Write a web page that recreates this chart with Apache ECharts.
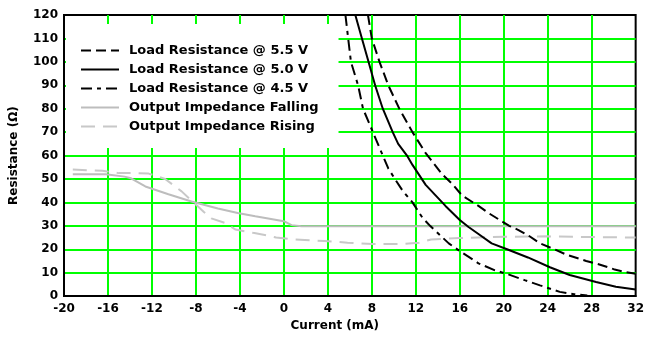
<!DOCTYPE html>
<html>
<head>
<meta charset="utf-8">
<script src="https://cdn.jsdelivr.net/npm/echarts@6/dist/echarts.min.js"></script>
<style>
  html, body { margin: 0; padding: 0; background: #fff; }
  #chart { width: 647px; height: 337px; }
</style>
</head>
<body>
<div id="chart"></div>
<script>
// Axis ranges (mA on x, ohms on y)
const xMin = -20, xMax = 32, xStep = 4;
const yMin = 0, yMax = 120, yStep = 10;

// Load resistance @ 5.5 V
const load55Current = [7.65, 8.0, 8.7, 9.5, 10.5, 11.7, 12.9, 13.4, 14.4, 15.3, 16.2, 17.7, 18.6, 19.8, 20.5, 21.3, 22.2, 23.3, 24.6, 25.7, 27.5, 28.7, 30.0, 31.1, 32.0];
const load55Ohms    = [120, 110, 100, 90, 80, 70, 61, 58, 52, 48, 43, 38.5, 35.5, 32, 30, 28.3, 26, 22.5, 20, 17.7, 15, 13.5, 11.5, 10.2, 9.5];

// Load resistance @ 5.0 V
const load50Current = [6.5, 7.1, 7.7, 8.3, 9.0, 9.9, 10.4, 11.2, 11.7, 12.9, 14.7, 16.0, 16.8, 17.7, 18.9, 20.3, 22.2, 24.2, 26.0, 28.4, 30.2, 32.0];
const load50Ohms    = [120, 110, 100, 90, 80, 70, 65, 60, 56, 47.5, 38.5, 32.5, 29.5, 26.5, 22.5, 20, 16.5, 12.3, 9, 6, 4, 2.8];

// Load resistance @ 4.5 V
const load45Current = [5.6, 5.85, 6.1, 6.75, 7.2, 8.1, 9.0, 9.5, 10.1, 10.8, 11.7, 12.6, 13.3, 15.0, 16.2, 17.7, 19.2, 20.4, 21.9, 23.3, 25.1, 26.4, 27.6];
const load45Ohms    = [120, 110, 100, 90, 80, 70, 60, 54.5, 50, 45, 40, 33.5, 30, 22.5, 18.6, 14, 11, 9.3, 6.8, 4.6, 1.8, 0.8, 0.3];

// Output impedance, falling edge
const fallCurrent = [-19.2, -16.2, -14.5, -13.9, -12.6, -10.5, -8.4, -6.0, -4.2, -2.6, 0.0, 0.7, 1.6, 32.0];
const fallOhms    = [52, 52, 51, 50.3, 46.8, 43.5, 40.4, 37.4, 35.5, 34.1, 32, 30.3, 29.8, 29.8];

// Output impedance, rising edge
const riseCurrent = [-19.2, -16.5, -15.0, -13.5, -12.3, -10.8, -9.3, -8.1, -7.3, -6.6, -5.4, -4.4, -2.8, -1.6, -0.7, 1.0, 3.7, 5.8, 8.1, 10.8, 12.3, 13.4, 16.0, 20.0, 24.0, 28.0, 32.0];
const riseOhms    = [54, 53.5, 52.5, 52.5, 52.3, 50, 44.7, 39.5, 36, 33.2, 31.3, 28.4, 27, 26, 25, 24.2, 23.5, 22.8, 22.2, 22.2, 22.8, 24.2, 24.8, 25.3, 25.5, 25.2, 25];

const seriesNames = [
  'Load Resistance @ 5.5 V',
  'Load Resistance @ 5.0 V',
  'Load Resistance @ 4.5 V',
  'Output Impedance Falling',
  'Output Impedance Rising'
];

const pairs = (xs, ys) => xs.map((x, i) => [x, ys[i]]);

const font = 'DejaVu Sans';

function lineSeries(name, data, color, type, width, z) {
  return {
    name: name,
    type: 'line',
    data: data,
    symbol: 'none',
    smooth: false,
    z: z,
    lineStyle: { color: color, width: width, type: type, cap: 'butt' },
    itemStyle: { color: color },
    emphasis: { disabled: true },
    animation: false
  };
}

const chart = echarts.init(document.getElementById('chart'), null, { renderer: 'canvas' });

chart.setOption({
  backgroundColor: '#ffffff',
  animation: false,
  grid: {
    left: 59, right: 7, top: 15, bottom: 38,
    show: true,
    borderColor: '#000000',
    borderWidth: 2,
    backgroundColor: '#ffffff'
  },
  legend: {
    orient: 'vertical',
    left: 66,
    top: 24,
    backgroundColor: '#ffffff',
    padding: [20, 20, 15, 14],
    itemWidth: 38,
    itemHeight: 14,
    itemGap: 6,
    selectedMode: false,
    data: seriesNames,
    itemStyle: { opacity: 0 },
    textStyle: { fontFamily: font, fontSize: 13, fontWeight: 'bold', color: '#000', padding: [0, 0, 0, 5] }
  },
  xAxis: {
    type: 'value',
    min: xMin, max: xMax, interval: xStep,
    name: 'Current (mA)',
    nameLocation: 'middle',
    nameGap: 17,
    nameTextStyle: { fontFamily: font, fontSize: 12, fontWeight: 'bold', color: '#000', padding: [0, 30, 0, 0] },
    axisLine: { show: true, onZero: false, lineStyle: { color: '#000', width: 2 } },
    axisTick: { show: false },
    axisLabel: { margin: 7, fontFamily: font, fontSize: 12, fontWeight: 'bold', color: '#000' },
    splitLine: { show: true, showMinLine: false, showMaxLine: false, lineStyle: { color: '#00ff00', width: 2 } }
  },
  yAxis: {
    type: 'value',
    min: yMin, max: yMax, interval: yStep,
    name: 'Resistance (Ω)',
    nameLocation: 'middle',
    nameGap: 44,
    nameRotate: 90,
    nameTextStyle: { fontFamily: font, fontSize: 12, fontWeight: 'bold', color: '#000' },
    axisLine: { show: true, onZero: false, lineStyle: { color: '#000', width: 2 } },
    axisTick: { show: false },
    axisLabel: { margin: 6, fontFamily: font, fontSize: 12, fontWeight: 'bold', color: '#000' },
    splitLine: { show: true, showMinLine: false, showMaxLine: false, lineStyle: { color: '#00ff00', width: 2 } }
  },
  series: [
    lineSeries(seriesNames[0], pairs(load55Current, load55Ohms), '#000000', [10, 5], 2, 5),
    lineSeries(seriesNames[1], pairs(load50Current, load50Ohms), '#000000', 'solid', 2, 5),
    lineSeries(seriesNames[2], pairs(load45Current, load45Ohms), '#000000', [11, 5, 4, 5], 2, 5),
    lineSeries(seriesNames[3], pairs(fallCurrent, fallOhms), '#bdbdbd', 'solid', 2, 3),
    lineSeries(seriesNames[4], pairs(riseCurrent, riseOhms), '#c8c8c8', [14, 8], 2, 3)
  ]
});
</script>
</body>
</html>
